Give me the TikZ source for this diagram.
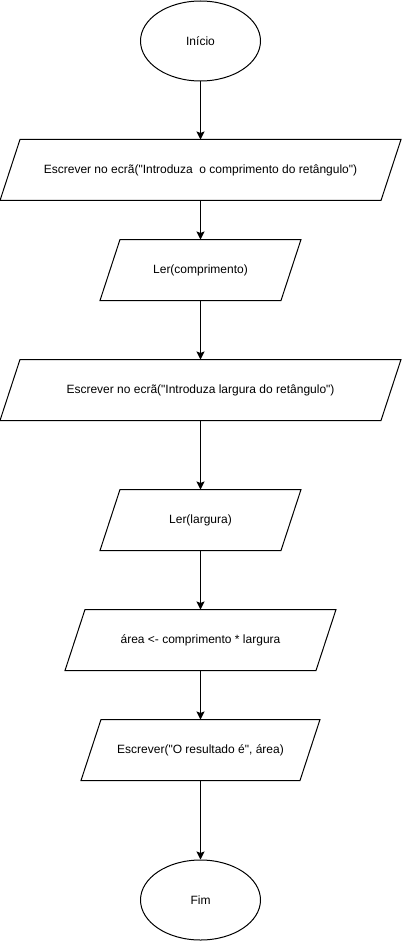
\documentclass[tikz,border=0pt]{standalone}
\usepackage{fontspec}
\setmainfont{Liberation Sans}[Ligatures=TeXOff]
\usetikzlibrary{shapes.geometric,arrows.meta}

\begin{document}
\begin{tikzpicture}[x=1pt,y=-1pt,line width=1pt,
   term/.style={ellipse,draw,minimum width=120pt,minimum height=80pt,inner sep=0pt},
   io/.style={minimum height=60pt,inner sep=0pt},
   seta/.style={-{Stealth[length=8pt,width=8pt,inset=1.5pt]}}]
   \useasboundingbox (0,0) rectangle (401,941) ;
   \fontsize{12}{14}\selectfont
   % nos
   \node[term] (inicio) at (200.5,41) {Início} ;
   \node[io,minimum width=380pt] (msg1) at (200.5,170)
      {Escrever no ecrã("Introduza\ \ o comprimento do retângulo")} ;
   \node[io,minimum width=180pt] (ler1) at (200.5,270) {Ler(comprimento)} ;
   \node[io,minimum width=380pt] (msg2) at (200.5,390)
      {Escrever no ecrã("Introduza largura do retângulo")} ;
   \node[io,minimum width=180pt] (ler2) at (200.5,520) {Ler(largura)} ;
   \node[io,minimum width=250pt] (calc) at (200.5,640) {área <- comprimento * largura} ;
   \node[io,minimum width=218pt] (escr) at (200.5,750) {Escrever("O resultado é", área)} ;
   \node[term] (fim) at (200.5,900) {Fim} ;
   % paralelogramos
   \foreach \n in {msg1,ler1,msg2,ler2,calc,escr}
      \draw ([xshift=10pt]\n.north west) -- ([xshift=10pt]\n.north east)
         -- ([xshift=-10pt]\n.south east) -- ([xshift=-10pt]\n.south west) -- cycle ;
   % setas
   \draw[seta] (inicio) -- (msg1) ;
   \draw[seta] (msg1) -- (ler1) ;
   \draw[seta] (ler1) -- (msg2) ;
   \draw[seta] (msg2) -- (ler2) ;
   \draw[seta] (ler2) -- (calc) ;
   \draw[seta] (calc) -- (escr) ;
   \draw[seta] (escr) -- (fim) ;
\end{tikzpicture}
\end{document}
